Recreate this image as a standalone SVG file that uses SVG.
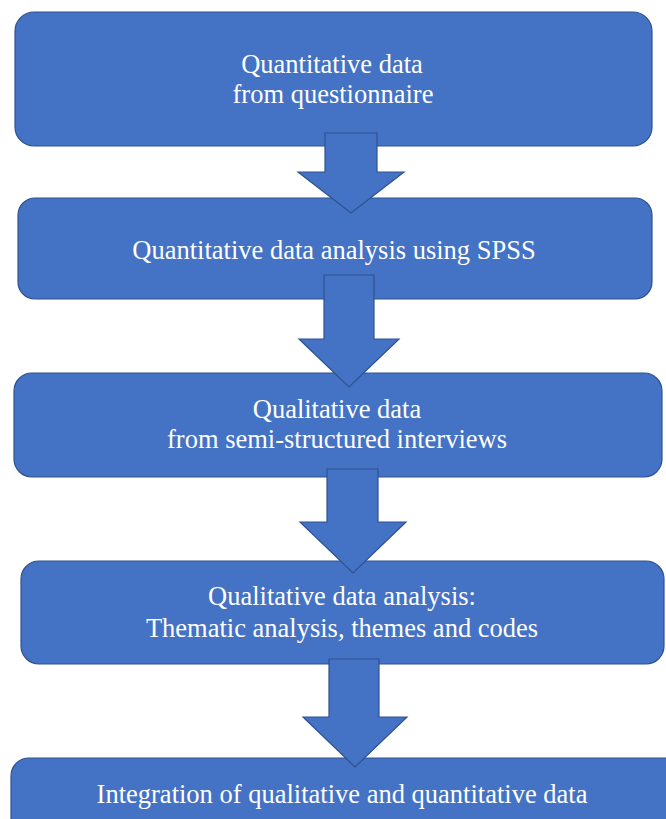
<svg xmlns="http://www.w3.org/2000/svg" width="666" height="819" viewBox="0 0 666 819">
<style>
.box{fill:#4472C4;stroke:#2F528F;stroke-width:1.2}
.arrow{fill:#4472C4;stroke:#2F528F;stroke-width:1.2;stroke-linejoin:miter}
.t{font-family:"Liberation Serif","Times New Roman",serif;font-size:26.5px;fill:#ffffff;text-anchor:middle}
</style>
<rect width="666" height="819" fill="#ffffff"/>
<g id="n1"><rect class="box" x="15" y="12" width="637" height="134" rx="19"/>
<text class="t" x="332" y="73">Quantitative data</text>
<text class="t" x="333" y="103">from questionnaire</text></g>
<g id="n2"><rect class="box" x="18" y="198" width="634" height="101" rx="17"/>
<text class="t" x="334" y="259">Quantitative data analysis using SPSS</text></g>
<g id="n3"><rect class="box" x="14" y="373" width="648" height="104" rx="18"/>
<text class="t" x="337" y="418">Qualitative data</text>
<text class="t" x="337" y="448">from semi-structured interviews</text></g>
<g id="n4"><rect class="box" x="21" y="561" width="643" height="103" rx="18"/>
<text class="t" x="342" y="605">Qualitative data analysis:</text>
<text class="t" x="342" y="637">Thematic analysis, themes and codes</text></g>
<g id="n5"><rect class="box" x="11" y="758" width="680" height="90" rx="18"/>
<text class="t" x="342" y="803">Integration of qualitative and quantitative data</text></g>
<g id="connectors">
<polygon class="arrow" points="325,133 377,133 377,172 404,172 351,213 298,172 325,172"/>
<polygon class="arrow" points="324,275 374,275 374,339 399,339 349,387 299,339 324,339"/>
<polygon class="arrow" points="327,469 378,469 378,522 406,522 353,573 300,522 327,522"/>
<polygon class="arrow" points="329,659 379,659 379,717 407,717 355,767 303,717 329,717"/>
</g>
</svg>
